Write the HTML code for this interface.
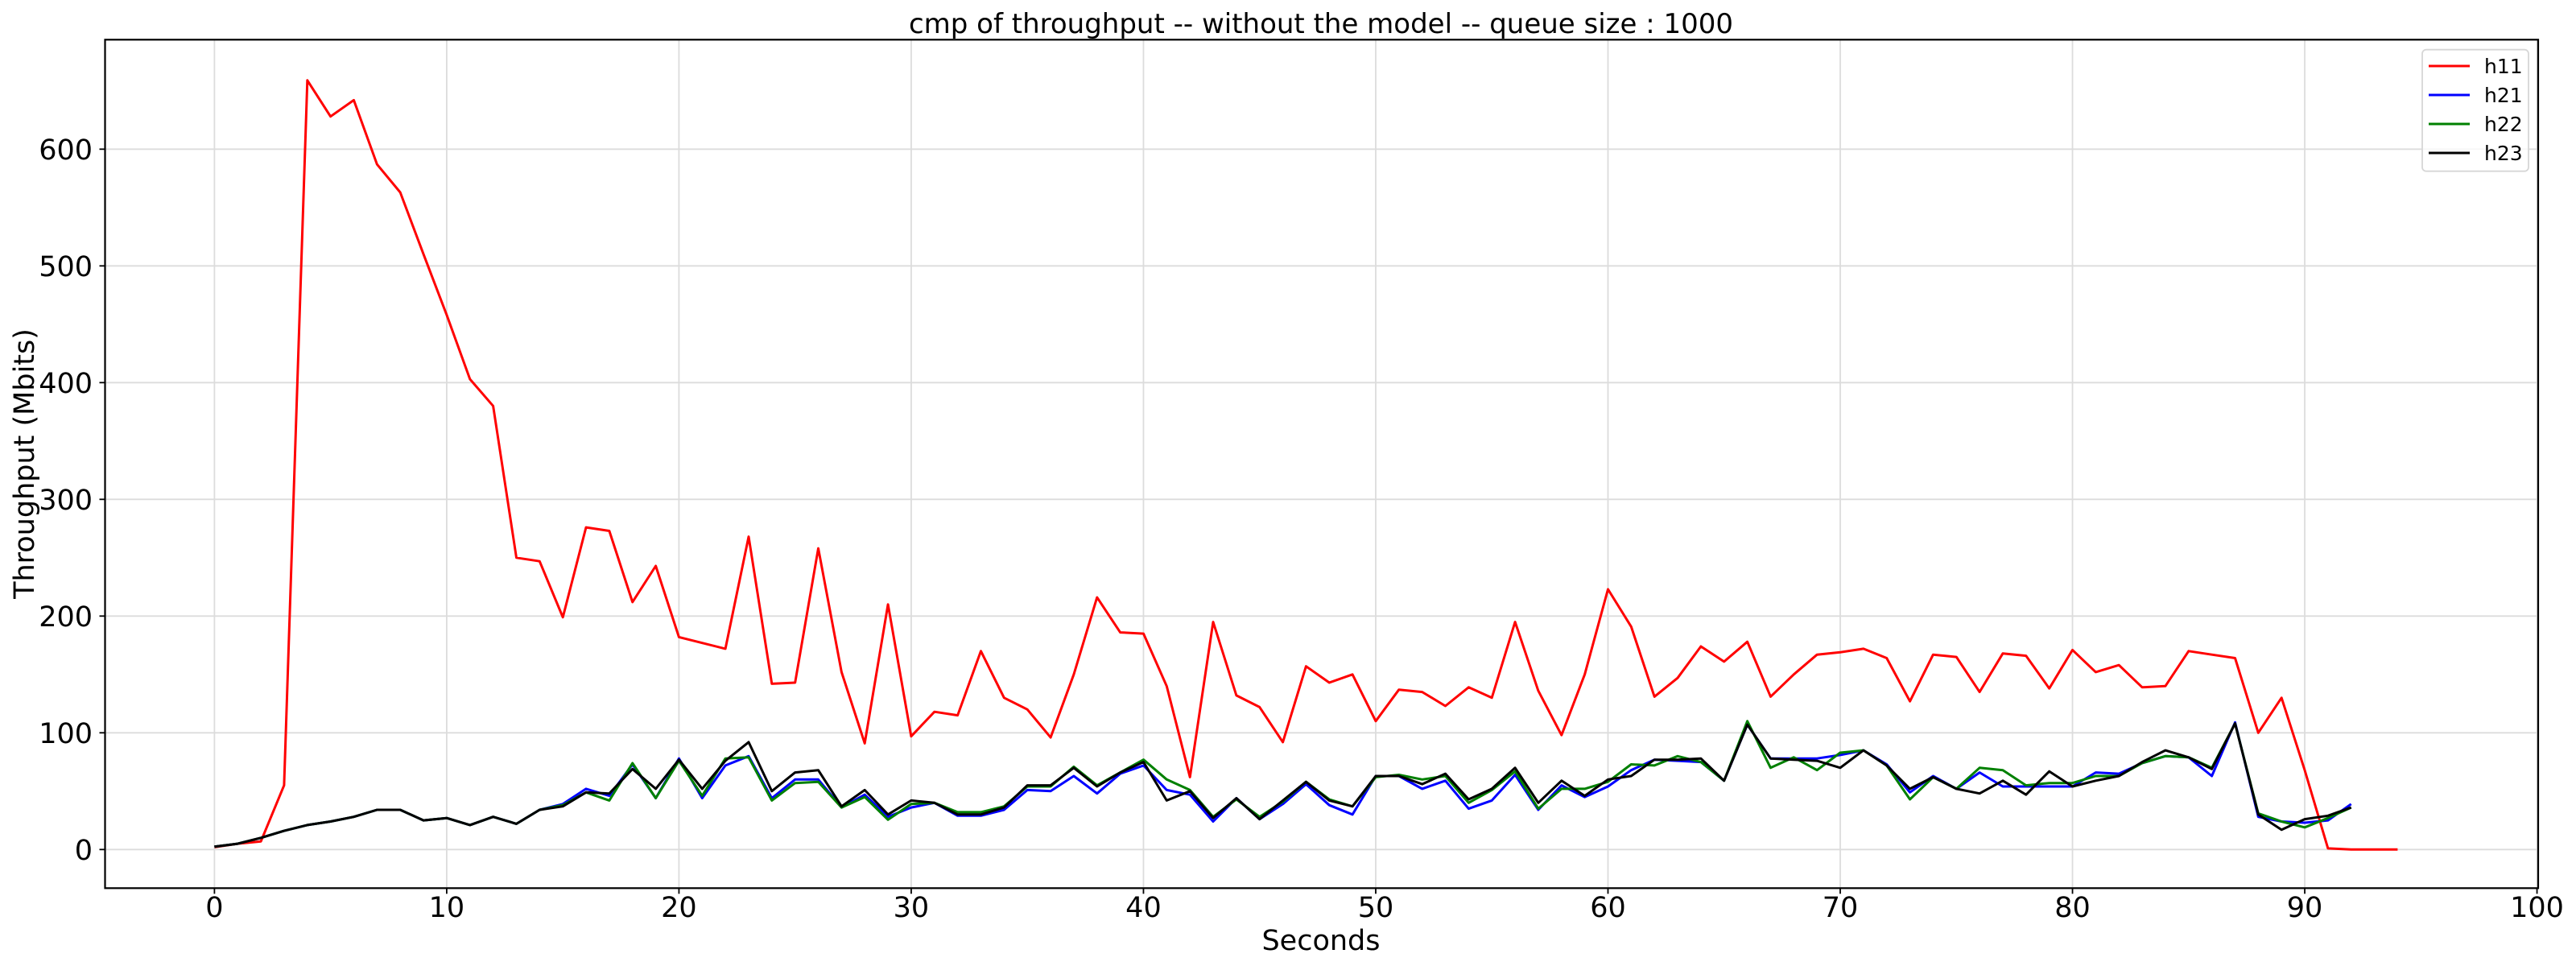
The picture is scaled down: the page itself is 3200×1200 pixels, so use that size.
<!DOCTYPE html>
<html><head><meta charset="utf-8"><style>
html,body{margin:0;padding:0;background:#fff;}
svg{display:block;font-family:"DejaVu Sans","Liberation Sans",sans-serif;}
</style></head><body>
<svg id="chart" width="3200" height="1200" viewBox="0 0 3200 1200" xmlns="http://www.w3.org/2000/svg">
<text x="1641" y="41" font-size="34" text-anchor="middle">cmp of throughput -- without the model -- queue size : 1000</text>
<text x="1641" y="1180" font-size="35" text-anchor="middle">Seconds</text>
<text transform="translate(42,576) rotate(-90)" font-size="35" text-anchor="middle">Throughput (Mbits)</text>
<g id="grid"></g>
<g id="ticks"></g>
<g id="series"></g>
<rect x="130.5" y="49.3" width="3022.5" height="1054" fill="none" stroke="#000" stroke-width="2.2"/>
<g>
<rect x="3009" y="61.7" width="132" height="151" rx="5" fill="#fff" fill-opacity="0.8" stroke="#d6d6d6" stroke-width="1.8"/>
<g><line x1="3017" x2="3068" y1="82" y2="82" stroke="#ff0000" stroke-width="3"/><text x="3086" y="91" font-size="25">h11</text></g>
<g><line x1="3017" x2="3068" y1="118" y2="118" stroke="#0000ff" stroke-width="3"/><text x="3086" y="127" font-size="25">h21</text></g>
<g><line x1="3017" x2="3068" y1="154" y2="154" stroke="#008000" stroke-width="3"/><text x="3086" y="163" font-size="25">h22</text></g>
<g><line x1="3017" x2="3068" y1="190" y2="190" stroke="#000000" stroke-width="3"/><text x="3086" y="199" font-size="25">h23</text></g>
</g>
</svg>
<script>
const xTicks = [0,10,20,30,40,50,60,70,80,90,100];
const yTicks = [0,100,200,300,400,500,600];
const h11 = [2,5,7,55,659,628,642,587,563,510,458,403,380,250,247,199,276,273,212,243,182,177,172,268,142,143,258,152,91,210,97,118,115,170,130,120,96,150,216,186,185,140,62,195,132,122,92,157,143,150,110,137,135,123,139,130,195,136,98,150,223,191,131,147,174,161,178,131,150,167,169,172,164,127,167,165,135,168,166,138,171,152,158,139,140,170,167,164,100,130,68,1,0,0,0];
const h21 = [2.5,5,10,16,21,24,28,34,34,25,27,21,28,22,34,39,52,46,73,44,78,44,72,80,44,60,60,36,47,28,36,40,29,29,34,51,50,63,48,65,72,51,47,24,44,26,39,56,38,30,63,63,52,59,35,42,64,34,55,45,54,68,77,76,75,59,107,78,78,78,81,85,73,49,63,52,66,54,54,54,54,66,65,74,80,79,63,109,28,24,23,25,39];
const h22 = [2.5,5,10,16,21,24,28,34,34,25,27,21,28,22,34,38,49,42,74,44,76,46,78,79,42,57,58,36,45,25.5,39,40,32,32,37,54,54,71,55,66,77,60,51,28,43,28,41,58,43,37,62,64,60,63,40,51,67,35,52,52,58,73,72,80,75,59,110,70,79,68,83,85,72,43,62,52,70,68,55,57,57,63,63,74,80,79,70,108,31,24,19,27,36];
const h23 = [2.5,5,10,16,21,24,28,34,34,25,27,21,28,22,34,37,49,48,69,52,77,52,76,92,50,66,68,37,51,30,42,40,30,30,36,55,55,70,54,66,75,42,50,27,44,26,42,58,42,37,63,63,56,65,43,52,70,40,59,46,60,63,77,77,78,59,107,78,77,76,70,85,72,52,62,52,48,59,47,67,54,59,63,75,85,79,69,108,30,17,26,29,36];
const seriesNames = ['h11','h21','h22','h23'];
const seriesColors = ['#ff0000','#0000ff','#008000','#000000'];

const X0=130.5, X1=3153, Y0=49.3, Y1=1103.3;
const xMin=-4.71, xMax=100.05, yMin=-33.1, yMax=693.8;
function xs(v){return X0+(v-xMin)/(xMax-xMin)*(X1-X0);}
function ys(v){return Y1-(v-yMin)/(yMax-yMin)*(Y1-Y0);}
const NS='http://www.w3.org/2000/svg';
const grid=document.getElementById('grid'), ticks=document.getElementById('ticks'), ser=document.getElementById('series');
function mk(tag,attrs,parent){const e=document.createElementNS(NS,tag);for(const k in attrs)e.setAttribute(k,attrs[k]);parent.appendChild(e);return e;}
xTicks.forEach(t=>{
  const x=xs(t);
  const g=mk('line',{x1:x,x2:x,y1:Y0,y2:Y1,stroke:'#dcdcdc','stroke-width':1.8},grid);
  
  
  const tk=mk('line',{x1:x,x2:x,y1:Y1,y2:Y1+7,stroke:'#000','stroke-width':1.8},ticks);
  
  
  const lb=mk('text',{x:x,y:1139,'font-size':35,'text-anchor':'middle'},ticks);
  lb.textContent=t;
  
  
});
yTicks.forEach(t=>{
  const y=ys(t);
  const g=mk('line',{x1:X0,x2:X1,y1:y,y2:y,stroke:'#dcdcdc','stroke-width':1.8},grid);
  
  
  const tk=mk('line',{x1:X0-7,x2:X0,y1:y,y2:y,stroke:'#000','stroke-width':1.8},ticks);
  
  
  const lb=mk('text',{x:115,y:y+12.5,'font-size':35,'text-anchor':'end'},ticks);
  lb.textContent=t;
  
  
});
[h11,h21,h22,h23].forEach((arr,i)=>{
  const pts=arr.map((v,k)=>xs(k).toFixed(1)+','+ys(v).toFixed(1)).join(' ');
  const p=mk('polyline',{points:pts,fill:'none',stroke:seriesColors[i],'stroke-width':3,'stroke-linejoin':'round'},ser);
  
  
});
</script>
</body></html>
